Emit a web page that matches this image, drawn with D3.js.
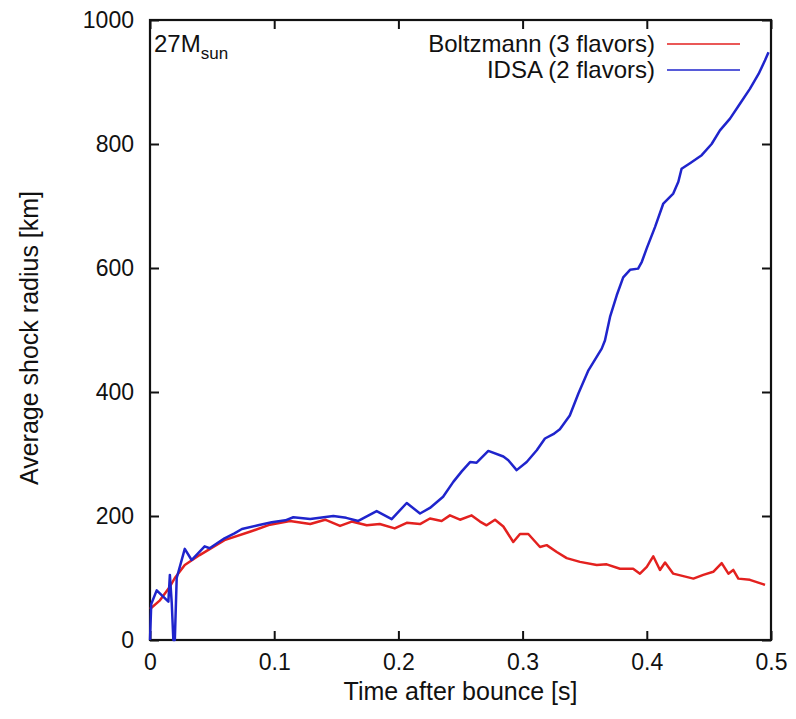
<!DOCTYPE html>
<head>
  <meta charset="utf-8">
  <script src="https://d3js.org/d3.v7.min.js"></script>
  <style>
    body { margin:0; background:#fff; }
    svg { display:block; }
    text { font-family: "Liberation Sans", Arial, Helvetica, sans-serif; fill:#111; }
  </style>
</head>

<body>
  <svg width="796" height="719"></svg>
  <script>
    var width = 796;
    var height = 719;
    var margin = {top: 20, right: 25, bottom: 79, left: 150};

    // tick values
    var xTicks = [0, 0.1, 0.2, 0.3, 0.4, 0.5];
    var xTickLabels = ['0', '0.1', '0.2', '0.3', '0.4', '0.5'];
    var yTicks = [0, 200, 400, 600, 800, 1000];

    var seriesNames = ['Boltzmann (3 flavors)', 'IDSA (2 flavors)'];
    var seriesColors = ['#e3211f', '#1f24cc'];

    // Boltzmann (3 flavors) - time [s], radius [km]
    var boltzTime = [0, 0.008, 0.016, 0.020, 0.028, 0.040, 0.060, 0.081, 0.0966, 0.1127,
      0.129, 0.141, 0.153, 0.1624, 0.1745, 0.185, 0.197, 0.2067, 0.2174, 0.2254,
      0.2348, 0.2415, 0.2496, 0.259, 0.2657, 0.271, 0.2778, 0.2845, 0.2925, 0.2979,
      0.3046, 0.314, 0.3194, 0.3275, 0.3355, 0.3462, 0.3597, 0.3677, 0.3784, 0.389,
      0.3945, 0.400, 0.4052, 0.4106, 0.4147, 0.4213, 0.4375, 0.4455, 0.4535, 0.4603,
      0.4657, 0.4696, 0.4737, 0.483, 0.4952];
    var boltzRadius = [50, 64, 86, 100, 121, 137, 161, 175, 186, 192,
      187, 194, 184, 191, 185, 187, 180, 189, 187, 196,
      192, 201, 194, 201, 191, 185, 194, 183, 158, 171,
      171, 150, 153, 142, 132, 126, 121, 122, 115, 115,
      107, 118, 135, 113, 125, 107, 99, 105, 110, 124,
      107, 113, 99, 97, 89];

    // IDSA (2 flavors)
    var idsaTime = [0, 0.001, 0.0054, 0.0148, 0.016, 0.0175, 0.0188, 0.0200, 0.0215, 0.028,
      0.0335, 0.044, 0.048, 0.060, 0.068, 0.074, 0.087, 0.098, 0.109, 0.1154,
      0.129, 0.1476, 0.158, 0.1677, 0.1825, 0.1946, 0.2067, 0.2174, 0.2254, 0.236,
      0.2442, 0.2510, 0.2577, 0.263, 0.2724, 0.2845, 0.2885, 0.2952, 0.3033, 0.3114,
      0.318, 0.3247, 0.3300, 0.338, 0.345, 0.353, 0.3637, 0.3663, 0.3704, 0.3758,
      0.381, 0.3865, 0.393, 0.396, 0.400, 0.4066, 0.4133, 0.4213, 0.4254, 0.428,
      0.4348, 0.4442, 0.4522, 0.4589, 0.467, 0.475, 0.483, 0.490, 0.4952, 0.498];
    var idsaRadius = [0, 58, 80, 62, 105, 60, 0, 0, 100, 147,
      129, 151, 148, 164, 172, 179, 185, 190, 193, 198,
      195, 200, 197, 192, 208, 195, 221, 204, 213, 231,
      255, 272, 287, 286, 305, 296, 290, 274, 287, 306,
      325, 332, 340, 362, 398, 435, 470, 483, 521, 556,
      585, 597, 599, 610, 632, 666, 704, 720, 739, 760,
      769, 782, 800, 822, 841, 865, 889, 913, 935, 948];

    var series = [
      {name: seriesNames[0], color: seriesColors[0], values: boltzTime.map((t, i) => ({t: t, r: boltzRadius[i]}))},
      {name: seriesNames[1], color: seriesColors[1], values: idsaTime.map((t, i) => ({t: t, r: idsaRadius[i]}))}
    ];

    var xScale = d3.scaleLinear()
      .domain([0, 0.5])
      .range([margin.left, width - margin.right]);
    var yScale = d3.scaleLinear()
      .domain([0, 1000])
      .range([height - margin.bottom, margin.top]);

    var svg = d3.select('svg');
    var tickLen = 9;

    // axes: ticks pointing inward, mirrored on top and right
    var xAxis = d3.axisBottom(xScale).tickValues(xTicks)
      .tickFormat((d, i) => xTickLabels[i]).tickSizeInner(-tickLen).tickSizeOuter(0).tickPadding(14);
    var yAxis = d3.axisLeft(yScale).tickValues(yTicks).tickFormat(d3.format('d'))
      .tickSizeInner(-tickLen).tickSizeOuter(0).tickPadding(16);

    var gx = svg.append('g')
      .attr('transform', 'translate(' + [0, height - margin.bottom] + ')')
      .call(xAxis);
    var gy = svg.append('g')
      .attr('transform', 'translate(' + [margin.left, 0] + ')')
      .call(yAxis);
    var gxTop = svg.append('g')
      .attr('transform', 'translate(' + [0, margin.top] + ')')
      .call(d3.axisTop(xScale).tickValues(xTicks).tickFormat('').tickSizeInner(-tickLen).tickSizeOuter(0));
    var gyRight = svg.append('g')
      .attr('transform', 'translate(' + [width - margin.right, 0] + ')')
      .call(d3.axisRight(yScale).tickValues(yTicks).tickFormat('').tickSizeInner(-tickLen).tickSizeOuter(0));

    [gx, gy, gxTop, gyRight].forEach(g => {
      g.select('.domain').remove();
      g.selectAll('line').attr('stroke', '#111').attr('stroke-width', 2);
      g.selectAll('text').style('font-size', '23px').attr('fill', '#111');
    });

    // frame
    svg.append('rect')
      .attr('x', margin.left)
      .attr('y', margin.top)
      .attr('width', width - margin.left - margin.right)
      .attr('height', height - margin.top - margin.bottom)
      .attr('fill', 'none')
      .attr('stroke', '#111')
      .attr('stroke-width', 2.2);

    // curves
    var line = d3.line()
      .x(d => xScale(d.t))
      .y(d => yScale(d.r));

    svg.selectAll('path.curve')
      .data(series)
      .enter().append('path')
      .attr('class', 'curve')
      .attr('d', d => line(d.values))
      .attr('fill', 'none')
      .attr('stroke', d => d.color)
      .attr('stroke-width', 2.5)
      .attr('stroke-linejoin', 'round');

    // legend
    var legend = svg.selectAll('g.legend')
      .data(series)
      .enter().append('g')
      .attr('class', 'legend')
      .attr('transform', (d, i) => 'translate(' + [0, 44 + i * 26] + ')');
    legend.append('text')
      .attr('x', 655)
      .attr('y', 0)
      .attr('dy', '0.35em')
      .attr('text-anchor', 'end')
      .style('font-size', '24px')
      .text(d => d.name);
    legend.append('line')
      .attr('x1', 667).attr('x2', 740)
      .attr('y1', 0).attr('y2', 0)
      .attr('stroke', d => d.color)
      .attr('stroke-width', 1.3);

    // mass label
    var mass = svg.append('text')
      .attr('x', margin.left + 4)
      .attr('y', 52)
      .style('font-size', '24px');
    mass.append('tspan').text('27M');
    mass.append('tspan').attr('dy', 7).style('font-size', '17px').text('sun');

    // axis titles
    svg.append('text')
      .attr('x', xScale(0.25))
      .attr('y', 700)
      .attr('text-anchor', 'middle')
      .style('font-size', '25px')
      .text('Time after bounce [s]');
    svg.append('text')
      .attr('transform', 'translate(' + [38, yScale(500) + 8] + ') rotate(-90)')
      .attr('text-anchor', 'middle')
      .style('font-size', '25px')
      .text('Average shock radius [km]');
  </script>
</body>
